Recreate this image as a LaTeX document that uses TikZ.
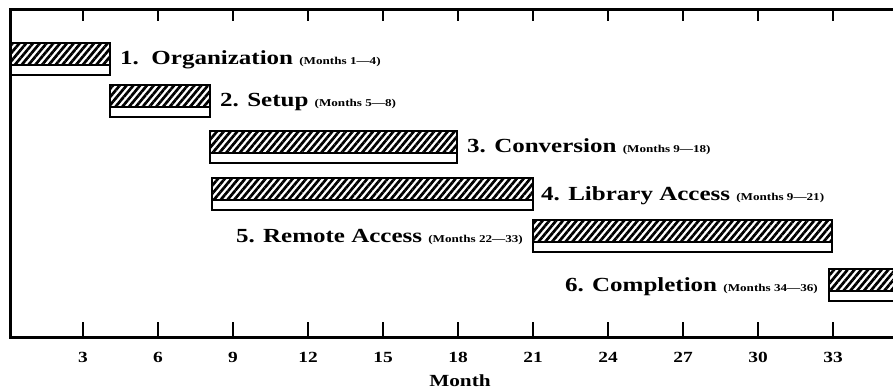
\documentclass[tikz,border=0pt]{standalone}
\usepackage{fontspec}
\setmainfont{Liberation Serif}[FakeStretch=1.25]
\usetikzlibrary{calc}
\usetikzlibrary{patterns.meta}

\tikzset{
    barline/.style={black, line width=1.6pt},
    hatch/.style={pattern={Lines[angle=50,distance=5.2pt,line width=2.7pt]}},
    lbl/.style={font=\bfseries\fontsize{20}{22}\selectfont, inner sep=0pt},
    num/.style={font=\bfseries\fontsize{15.5}{18}\selectfont},
}
\newcommand{\mths}[1]{{\fontsize{10.5}{12}\selectfont (Months #1)}}

\begin{document}
\begin{tikzpicture}[x=25pt,y=-1pt]
\useasboundingbox (-0.32,0) rectangle (35.4,390);
\clip (-0.32,0) rectangle (35.4,390);

% frame runs off to the right
\coordinate (tl) at (0.12,10);
\coordinate (br) at (37,337);

\newcommand{\ganttbar}[4]{
    \coordinate (#1a) at (#2,#4);
    \coordinate (#1b) at (#3,#4+32);
    \coordinate (#1m) at (#2,#4+22);
    \fill[hatch] (#1a) rectangle (#1m -| #1b);
    \draw[barline] (#1a) rectangle (#1b);
    \draw[barline] (#1m) -- (#1m -| #1b);
}

\draw[black, line width=3pt] (tl) rectangle (br);
\foreach \m in {3,6,...,36} {
    \draw[black, line width=1.4pt] (\m,10) -- (\m,21);
    \draw[black, line width=1.4pt] (\m,337) -- (\m,322);
}
\foreach \m in {3,6,...,33} {
    \node[num] (t\m) at (\m,357) {\m};
}
\node[font=\bfseries\fontsize{17}{20}\selectfont] (month) at (18.08,381) {Month};

\ganttbar{b1}{0.12}{4.08}{43}
\ganttbar{b2}{4.08}{8.08}{85}
\ganttbar{b3}{8.08}{17.96}{131}
\ganttbar{b4}{8.16}{21}{178}
\ganttbar{b5}{21}{32.96}{220}
\ganttbar{b6}{32.84}{37}{269}

\node[lbl, anchor=base west, xshift=10pt] (org) at (b1m -| b1b) {1.\ \ Organization \mths{1---4}};
\node[lbl, anchor=base west, xshift=10pt] (setup) at (b2m -| b2b) {2. Setup \mths{5---8}};
\node[lbl, anchor=base west, xshift=10pt] (conv) at (b3m -| b3b) {3. Conversion \mths{9---18}};
\node[lbl, anchor=base west, xshift=8pt] (libr) at (b4m -| b4b) {4. Library Access \mths{9---21}};
\node[lbl, anchor=base east, xshift=-10pt] (remote) at (b5m) {5. Remote Access \mths{22---33}};
\node[lbl, anchor=base east, xshift=-11pt] (compl) at (b6m) {6. Completion \mths{34---36}};
\end{tikzpicture}
\end{document}
